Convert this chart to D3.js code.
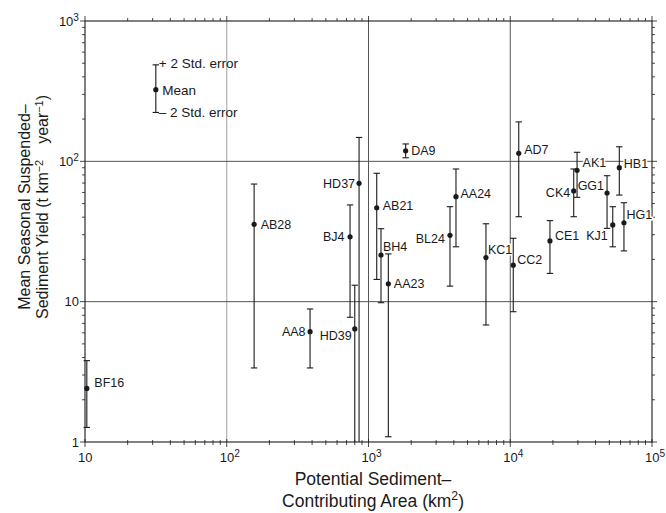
<!DOCTYPE html>
<html>
<head>
<meta charset="utf-8">
<script src="https://cdn.jsdelivr.net/npm/d3@7"></script>
<style>
  html, body { margin: 0; background: #fff; }
  svg { display: block; font-family: "Liberation Sans", Arial, Helvetica, sans-serif; }
</style>
</head>
<body>
<div id="chart"></div>
<script>
// ---- data ----
const stations  = ['BF16','AB28','AA8','BJ4','HD39','HD37','AB21','BH4','AA23','DA9','BL24','AA24','KC1','CC2','AD7','CE1','CK4','AK1','GG1','KJ1','HB1','HG1'];
const areaKm2   = [10.3, 156, 387, 741, 800, 858, 1143, 1225, 1380, 1829, 3757, 4141, 6740, 10500, 11480, 19060, 28030, 29600, 48190, 52860, 58800, 63400];
const meanYield = [2.41, 35.6, 6.11, 29.0, 6.39, 69.7, 46.7, 21.5, 13.4, 119, 29.7, 56.0, 20.6, 18.2, 114, 27.1, 61.5, 86.3, 59.5, 35.2, 90.1, 36.5];
const plus2se   = [3.80, 68.9, 8.87, 48.9, 13.1, 148, 82.2, 33.1, 21.9, 133, 47.5, 88.2, 35.9, 28.3, 191, 37.8, 88.2, 116, 79.0, 47.5, 127, 50.7];
const minus2se  = [1.27, 3.37, 3.37, 7.74, 1, 1, 14.4, 9.83, 1.09, 106, 12.9, 24.6, 6.82, 8.48, 40.3, 15.9, 40.3, 55.4, 33.3, 24.6, 57.5, 23.0];

// key in upper-left corner
const keyArea  = 31.6;
const keyMean  = 324;
const keyHigh  = 487;
const keyLow   = 223;
const keyTexts = ['+ 2 Std. error', 'Mean', '\u2013 2 Std. error'];

const xDecades = [10, 100, 1000, 10000, 100000];
const yDecades = [1, 10, 100, 1000];

// label placement (dx, dy in px, anchor)
const labelPos = {
  BF16: [7.5, -5.5, 'start'], AB28: [6.5, 0, 'start'], AA8: [-4.5, 0, 'end'],
  BJ4: [-5.5, 0, 'end'], HD39: [-3, 7, 'end'], HD37: [-4, 0, 'end'],
  AB21: [6, -2, 'start'], BH4: [2, -8.5, 'start'], AA23: [5.5, 0, 'start'],
  DA9: [5.5, 0, 'start'], BL24: [-5, 3, 'end'], AA24: [4.5, -3.5, 'start'],
  KC1: [2, -8.5, 'start'], CC2: [4, -6, 'start'], AD7: [5.5, -4, 'start'],
  CE1: [5, -5, 'start'], CK4: [-3.5, 1.5, 'end'], AK1: [5.5, -7.5, 'start'],
  GG1: [-3, -7.5, 'end'], KJ1: [-5, 11, 'end'], HB1: [4.5, -4, 'start'],
  HG1: [2.5, -8.5, 'start']
};

const rows = stations.map((s, i) => ({
  id: s, area: areaKm2[i], mean: meanYield[i], hi: plus2se[i], lo: minus2se[i]
}));

// ---- layout ----
const W = 666, H = 513;
const margin = { top: 21, right: 14, bottom: 71, left: 85 };
const iw = W - margin.left - margin.right;
const ih = H - margin.top - margin.bottom;

const svg = d3.select('#chart').append('svg')
  .attr('width', W).attr('height', H)
  .attr('role', 'img')
  .attr('aria-label', 'Mean seasonal suspended-sediment yield vs contributing area');

const g = svg.append('g').attr('transform', `translate(${margin.left},${margin.top})`);

const x = d3.scaleLog().domain([10, 1e5]).range([0, iw]);
const y = d3.scaleLog().domain([1, 1000]).range([ih, 0]);

const ink = '#1a1a1a';

// minor tick values
const minorX = d3.range(1, 5).flatMap(e => d3.range(2, 10).map(k => k * 10 ** e));
const minorY = d3.range(0, 3).flatMap(e => d3.range(2, 10).map(k => k * 10 ** e));

// ---- grid lines ----
const grid = g.append('g').attr('class', 'grid');
grid.append('line')
  .attr('x1', x(100)).attr('x2', x(100)).attr('y1', 0).attr('y2', ih)
  .attr('stroke', '#8a8a8a').attr('stroke-width', 0.8);
grid.selectAll('line.vx').data([1000, 10000]).join('line')
  .attr('class', 'vx')
  .attr('x1', d => x(d)).attr('x2', d => x(d)).attr('y1', 0).attr('y2', ih)
  .attr('stroke', '#555').attr('stroke-width', 1);
grid.selectAll('line.hy').data([10, 100]).join('line')
  .attr('class', 'hy')
  .attr('x1', 0).attr('x2', iw).attr('y1', d => y(d)).attr('y2', d => y(d))
  .attr('stroke', '#555').attr('stroke-width', 1);

// ---- frame + ticks on all four sides ----
const fr = g.append('g').attr('class', 'frame').attr('stroke', ink).attr('stroke-width', 1.1);
fr.append('rect').attr('width', iw).attr('height', ih).attr('fill', 'none');

function ticksX(vals, yPos, len, dir) {
  fr.append('g').selectAll('line').data(vals).join('line')
    .attr('x1', d => x(d)).attr('x2', d => x(d))
    .attr('y1', yPos).attr('y2', yPos + dir * len)
    .attr('stroke-width', 0.8);
}
function ticksY(vals, xPos, len, dir) {
  fr.append('g').selectAll('line').data(vals).join('line')
    .attr('y1', d => y(d)).attr('y2', d => y(d))
    .attr('x1', xPos).attr('x2', xPos + dir * len)
    .attr('stroke-width', 0.8);
}
ticksX(xDecades, ih, 5, 1);  ticksX(minorX, ih, 3, 1);
ticksX(xDecades, ih, 3, -1); ticksX(minorX, ih, 2, -1);
ticksX(xDecades, 0, 5, -1);  ticksX(minorX, 0, 3, -1);
ticksY(yDecades, 0, 5, -1);  ticksY(minorY, 0, 3, -1);
ticksY(yDecades, iw, 5, 1);  ticksY(minorY, iw, 3, 1);

// ---- tick labels ----
function powerLabel(sel, v) {
  const e = Math.round(Math.log10(v));
  if (e === 0) { sel.text('1'); return; }
  sel.append('tspan').text('10');
  if (e > 1) sel.append('tspan').attr('dy', '-0.45em').attr('font-size', '0.78em').text(e);
}
g.append('g').selectAll('text').data(xDecades).join('text')
  .attr('x', d => x(d) - 7).attr('y', ih + 20)
  .attr('font-size', 13).attr('fill', ink)
  .each(function (d) { powerLabel(d3.select(this), d); });
g.append('g').selectAll('text').data(yDecades).join('text')
  .attr('x', -6).attr('y', d => y(d) + 4.5)
  .attr('text-anchor', 'end')
  .attr('font-size', 13).attr('fill', ink)
  .each(function (d) { powerLabel(d3.select(this), d); });

// ---- axis titles ----
const xt = svg.append('text').attr('text-anchor', 'middle').attr('font-size', 17.5).attr('fill', ink);
xt.append('tspan').attr('x', 373).attr('y', 485).text('Potential Sediment\u2013');
const xl2 = xt.append('tspan').attr('x', 373).attr('y', 507);
xl2.append('tspan').text('Contributing Area (km');
xl2.append('tspan').attr('dy', '-0.55em').attr('font-size', '0.7em').text('2');
xl2.append('tspan').attr('dy', '0.385em').text(')');

const yt = svg.append('text').attr('text-anchor', 'middle').attr('font-size', 16).attr('fill', ink)
  .attr('transform', 'translate(0,207) rotate(-90)');
yt.append('tspan').attr('x', 0).attr('y', 30).text('Mean Seasonal Suspended\u2013');
const yl2 = yt.append('tspan').attr('x', 0).attr('y', 47.5);
yl2.append('tspan').text('Sediment Yield (t km');
yl2.append('tspan').attr('dy', '-0.45em').attr('font-size', '0.68em').text('\u22122');
yl2.append('tspan').attr('dy', '0.306em').text('\u2003year');
yl2.append('tspan').attr('dy', '-0.45em').attr('font-size', '0.68em').text('\u22121');
yl2.append('tspan').attr('dy', '0.306em').text(')');

// ---- station labels (white halo breaks grid lines, as in the print) ----
g.append('g').attr('class', 'labels').selectAll('text').data(rows).join('text')
  .attr('x', d => x(d.area) + labelPos[d.id][0])
  .attr('y', d => y(d.mean) + labelPos[d.id][1])
  .attr('dy', '0.36em')
  .attr('text-anchor', d => labelPos[d.id][2])
  .attr('font-size', 12.5)
  .attr('fill', ink)
  .attr('stroke', '#fff').attr('stroke-width', 3).attr('paint-order', 'stroke')
  .text(d => d.id);

// ---- error bars and means ----
const cap = 3.2;
const bars = g.append('g').attr('class', 'bars').attr('stroke', ink).attr('stroke-width', 1.1);
bars.selectAll('line.stem').data(rows).join('line')
  .attr('class', 'stem')
  .attr('x1', d => x(d.area)).attr('x2', d => x(d.area))
  .attr('y1', d => y(d.hi)).attr('y2', d => y(d.lo));
bars.selectAll('line.top').data(rows).join('line')
  .attr('class', 'top')
  .attr('x1', d => x(d.area) - cap).attr('x2', d => x(d.area) + cap)
  .attr('y1', d => y(d.hi)).attr('y2', d => y(d.hi));
bars.selectAll('line.bot').data(rows.filter(d => d.lo > 1)).join('line')
  .attr('class', 'bot')
  .attr('x1', d => x(d.area) - cap).attr('x2', d => x(d.area) + cap)
  .attr('y1', d => y(d.lo)).attr('y2', d => y(d.lo));
g.append('g').selectAll('circle').data(rows).join('circle')
  .attr('cx', d => x(d.area)).attr('cy', d => y(d.mean)).attr('r', 2.6)
  .attr('fill', ink);

// ---- key ----
const key = g.append('g').attr('class', 'key');
key.append('line').attr('x1', x(keyArea)).attr('x2', x(keyArea))
  .attr('y1', y(keyHigh)).attr('y2', y(keyLow)).attr('stroke', ink).attr('stroke-width', 1.1);
key.selectAll('line.kc').data([keyHigh, keyLow]).join('line').attr('class', 'kc')
  .attr('x1', x(keyArea) - cap).attr('x2', x(keyArea) + cap)
  .attr('y1', d => y(d)).attr('y2', d => y(d)).attr('stroke', ink).attr('stroke-width', 1.1);
key.append('circle').attr('cx', x(keyArea)).attr('cy', y(keyMean)).attr('r', 2.6).attr('fill', ink);
key.selectAll('text').data([keyHigh, keyMean, keyLow]).join('text')
  .attr('x', (d, i) => x(keyArea) + (i === 1 ? 6.5 : 3))
  .attr('y', (d, i) => y(d) + (i === 0 ? -2 : 0))
  .attr('dy', '0.36em')
  .attr('font-size', 13.5).attr('fill', ink)
  .text((d, i) => keyTexts[i]);
</script>
</body>
</html>
